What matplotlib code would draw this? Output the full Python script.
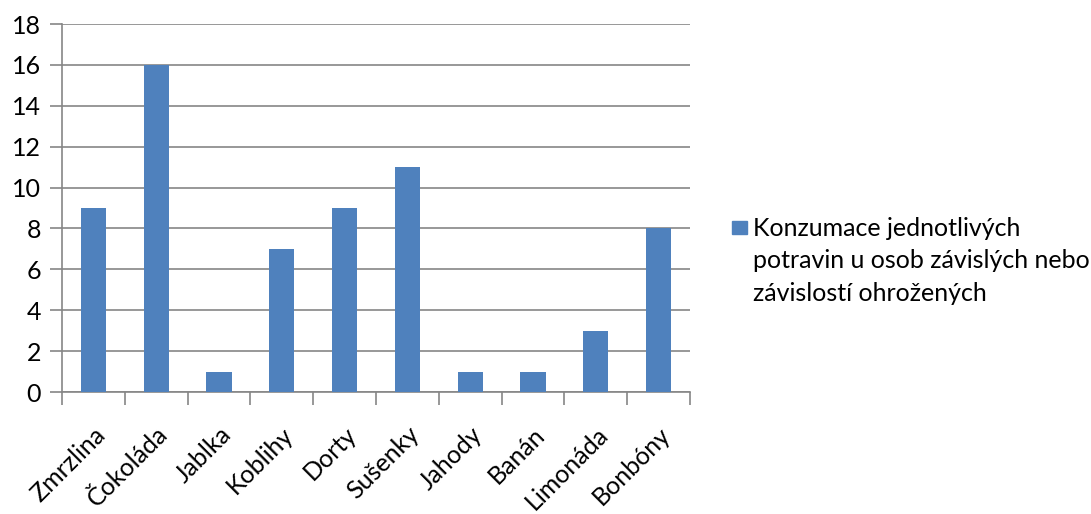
import numpy as np
import matplotlib
matplotlib.use("Agg")
import matplotlib.pyplot as plt
from matplotlib.patches import Rectangle

categories = ["Zmrzlina", "Čokoláda", "Jablka", "Koblihy", "Dorty",
              "Sušenky", "Jahody", "Banán", "Limonáda", "Bonbóny"]
values = [9, 16, 1, 7, 9, 11, 1, 1, 3, 8]
series_name = "Konzumace jednotlivých\npotravin u osob závislých nebo\nzávislostí ohrožených"

plt.rcParams["font.family"] = ["Lato", "DejaVu Sans"]
FS = 18
AXIS_GREY = "#868686"
BAR_BLUE = "#4F81BD"
W, H = 1091, 514

fig = plt.figure(figsize=(10.91, 5.14), dpi=100)
# plot area in pixels: left 62, right 690, top 24, bottom 392
ax = fig.add_axes([62 / W, 1 - 392 / H, 628 / W, 368 / H])

x = np.arange(len(categories))
bars = ax.bar(x, values, width=0.4, color=BAR_BLUE, zorder=3)

ax.set_xlim(-0.5, len(categories) - 0.5)
ax.set_ylim(0, 18)
ax.set_yticks(range(0, 19, 2))
ax.yaxis.grid(True, color=AXIS_GREY, linewidth=1.2, zorder=0)

ax.set_xticks(x)
ax.set_xticklabels(categories, rotation=45, ha="right", rotation_mode="anchor")
ax.set_xticks(np.arange(-0.5, len(categories), 1), minor=True)
ax.tick_params(axis="x", which="major", length=0, pad=22, labelsize=FS)
ax.tick_params(axis="x", which="minor", length=9, width=1.2, color=AXIS_GREY)
ax.tick_params(axis="y", length=9, width=1.2, color=AXIS_GREY,
               labelsize=FS, pad=6)

for side in ["top", "right"]:
    ax.spines[side].set_visible(False)
for side in ["left", "bottom"]:
    ax.spines[side].set_color(AXIS_GREY)
    ax.spines[side].set_linewidth(1.2)

# legend: square next to the first line of the wrapped series name
fig.patches.append(Rectangle((732 / W, 1 - 234 / H), 15 / W, 13 / H,
                             transform=fig.transFigure, color=BAR_BLUE))
fig.text(753 / W, 1 - 217 / H, series_name, fontsize=FS, va="top",
         ha="left", linespacing=1.5)

fig.savefig("out.png", dpi=100)
